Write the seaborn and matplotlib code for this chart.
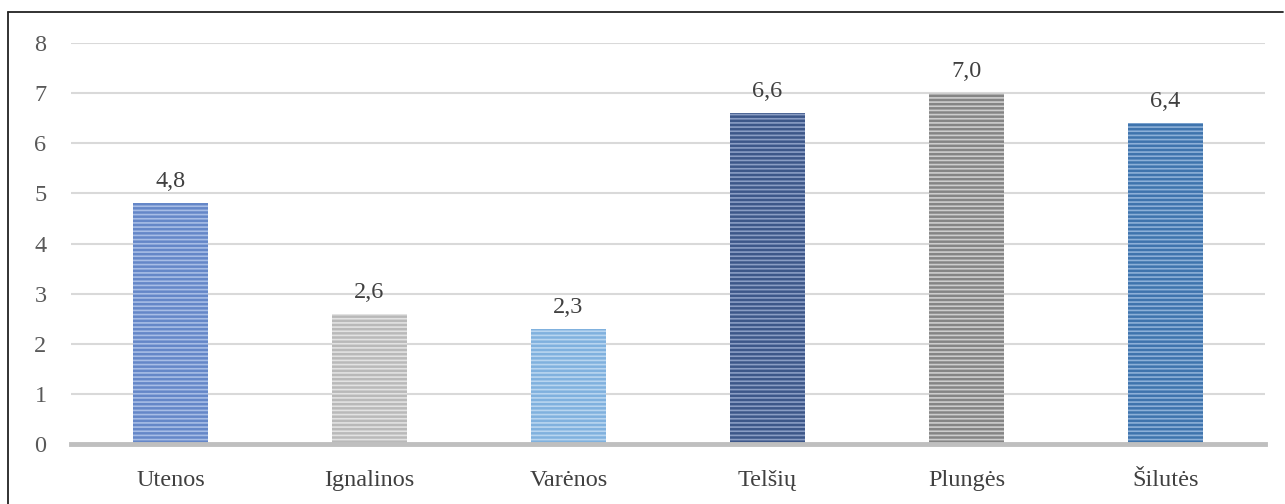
import matplotlib
matplotlib.use("Agg")
import matplotlib.pyplot as plt
import seaborn as sns
import pandas as pd
from matplotlib.lines import Line2D

categories = ["Utenos", "Ignalinos", "Varėnos", "Telšių", "Plungės", "Šilutės"]
values = [4.8, 2.6, 2.3, 6.6, 7.0, 6.4]
value_labels = ["4,8", "2,6", "2,3", "6,6", "7,0", "6,4"]
yticks = [0, 1, 2, 3, 4, 5, 6, 7, 8]

base_colors = ["#6587c8", "#b9b9b9", "#80b1de", "#3d5789", "#858585", "#3f74ad"]
stripe_colors = ["#a7bde6", "#e2e2e2", "#b8d5f0", "#8a9dc4", "#cdcdcd", "#8db0d8"]

sns.set_theme(style="white")
plt.rcParams['font.family'] = ['Liberation Serif', 'DejaVu Serif']
plt.rcParams['hatch.linewidth'] = 1.2

df = pd.DataFrame({"cat": categories, "val": values})

fig = plt.figure(figsize=(12.85, 5.04), dpi=100)
ax = fig.add_axes([71/1285, 60/504, 1194/1285, 401/504])

sns.barplot(data=df, x="cat", y="val", hue="cat", palette=base_colors,
            legend=False, width=0.38, ax=ax, saturation=1)

for patch, sc in zip(ax.patches, stripe_colors):
    patch.set_hatch("----")
    patch.set_edgecolor(sc)
    patch.set_linewidth(0)

ax.set_ylim(0, 8)
ax.set_xlim(-0.5, 5.5)
ax.set_yticks(yticks)
ax.set_yticklabels([str(t) for t in yticks])
ax.yaxis.grid(True, color="#d9d9d9", linewidth=1.5)
ax.set_axisbelow(True)
for s in ["top", "right", "left"]:
    ax.spines[s].set_visible(False)
ax.spines["bottom"].set_color("#bfbfbf")
ax.spines["bottom"].set_linewidth(3.5)
ax.spines["bottom"].set_zorder(5)
ax.set_xlabel("")
ax.set_ylabel("")
ax.tick_params(axis="x", length=0, pad=19, labelsize=17.5, labelcolor="#404040")
ax.tick_params(axis="y", length=0, pad=22, labelsize=17.5, labelcolor="#595959")
for lab in ax.get_yticklabels():
    lab.set_horizontalalignment("center")

for i, (v, t) in enumerate(zip(values, value_labels)):
    ax.annotate(t, xy=(i, v), xytext=(0, 8), textcoords="offset points",
                ha="center", va="bottom", fontsize=17.5, color="#404040")

# frame lines (top and left)
fig.add_artist(Line2D([8/1285, 8/1285], [0, 1 - 12/504], transform=fig.transFigure,
                      color="#222222", linewidth=1.3))
fig.add_artist(Line2D([8/1285, 1283/1285], [1 - 12/504, 1 - 12/504], transform=fig.transFigure,
                      color="#222222", linewidth=1.3))

fig.savefig("out.png", dpi=100)
